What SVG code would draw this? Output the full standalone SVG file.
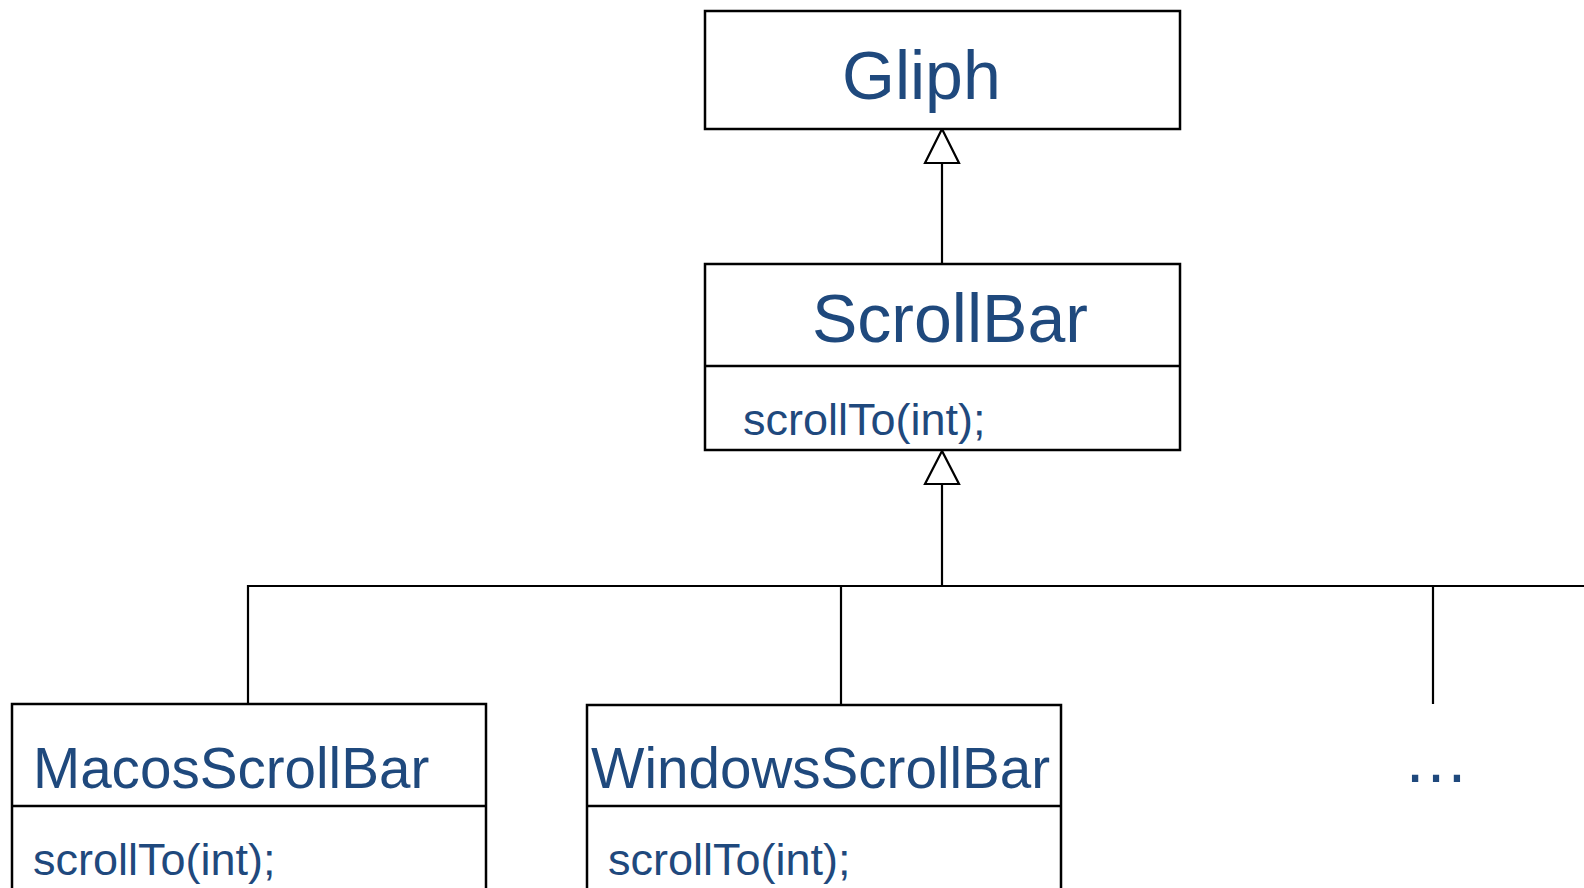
<svg xmlns="http://www.w3.org/2000/svg" width="1584" height="888" viewBox="0 0 1584 888">
<defs>
<style>
.box{fill:#ffffff;stroke:#000000;stroke-width:2.5}
.div{stroke:#000000;stroke-width:2.5}
.conn{fill:none;stroke:#000000;stroke-width:2.2}
.head{fill:#ffffff;stroke:#000000;stroke-width:2.2;stroke-linejoin:miter}
.t{font-family:"Liberation Sans",Arial,sans-serif;fill:#1F497D}
.big{font-size:68px}
.mid{font-size:56.6px}
.small{font-size:45px}
</style>
</defs>
<rect width="1584" height="888" fill="#ffffff"/>
<g id="connectors">
<line class="conn" x1="942" y1="163" x2="942" y2="264"/>
<polygon class="head" points="942,129 925,163 959,163"/>
<line class="conn" x1="942" y1="484" x2="942" y2="586"/>
<polygon class="head" points="942,451 925,484 959,484"/>
<polyline class="conn" points="248,704 248,586 1584,586"/>
<line class="conn" x1="841" y1="586" x2="841" y2="705"/>
<line class="conn" x1="1433" y1="586" x2="1433" y2="704"/>
</g>
<g id="gliph">
<rect class="box" x="705" y="11" width="475" height="118"/>
<text class="t big" x="842" y="99">Gliph</text>
</g>
<g id="scrollbar">
<rect class="box" x="705" y="264" width="475" height="186"/>
<line class="div" x1="705" y1="366" x2="1180" y2="366"/>
<text class="t big" x="812" y="342">ScrollBar</text>
<text class="t small" x="743" y="435">scrollTo(int);</text>
</g>
<g id="macos">
<rect class="box" x="12" y="704" width="474" height="200"/>
<line class="div" x1="12" y1="806" x2="486" y2="806"/>
<text class="t mid" x="33" y="788">MacosScrollBar</text>
<text class="t small" x="33" y="875">scrollTo(int);</text>
</g>
<g id="windows">
<rect class="box" x="587" y="705" width="474" height="200"/>
<line class="div" x1="587" y1="806" x2="1061" y2="806"/>
<text class="t mid" x="591" y="788">WindowsScrollBar</text>
<text class="t small" x="608" y="875">scrollTo(int);</text>
</g>
<g id="more">
<text class="t" x="1436" y="782" font-size="66" text-anchor="middle">…</text>
</g>
</svg>
